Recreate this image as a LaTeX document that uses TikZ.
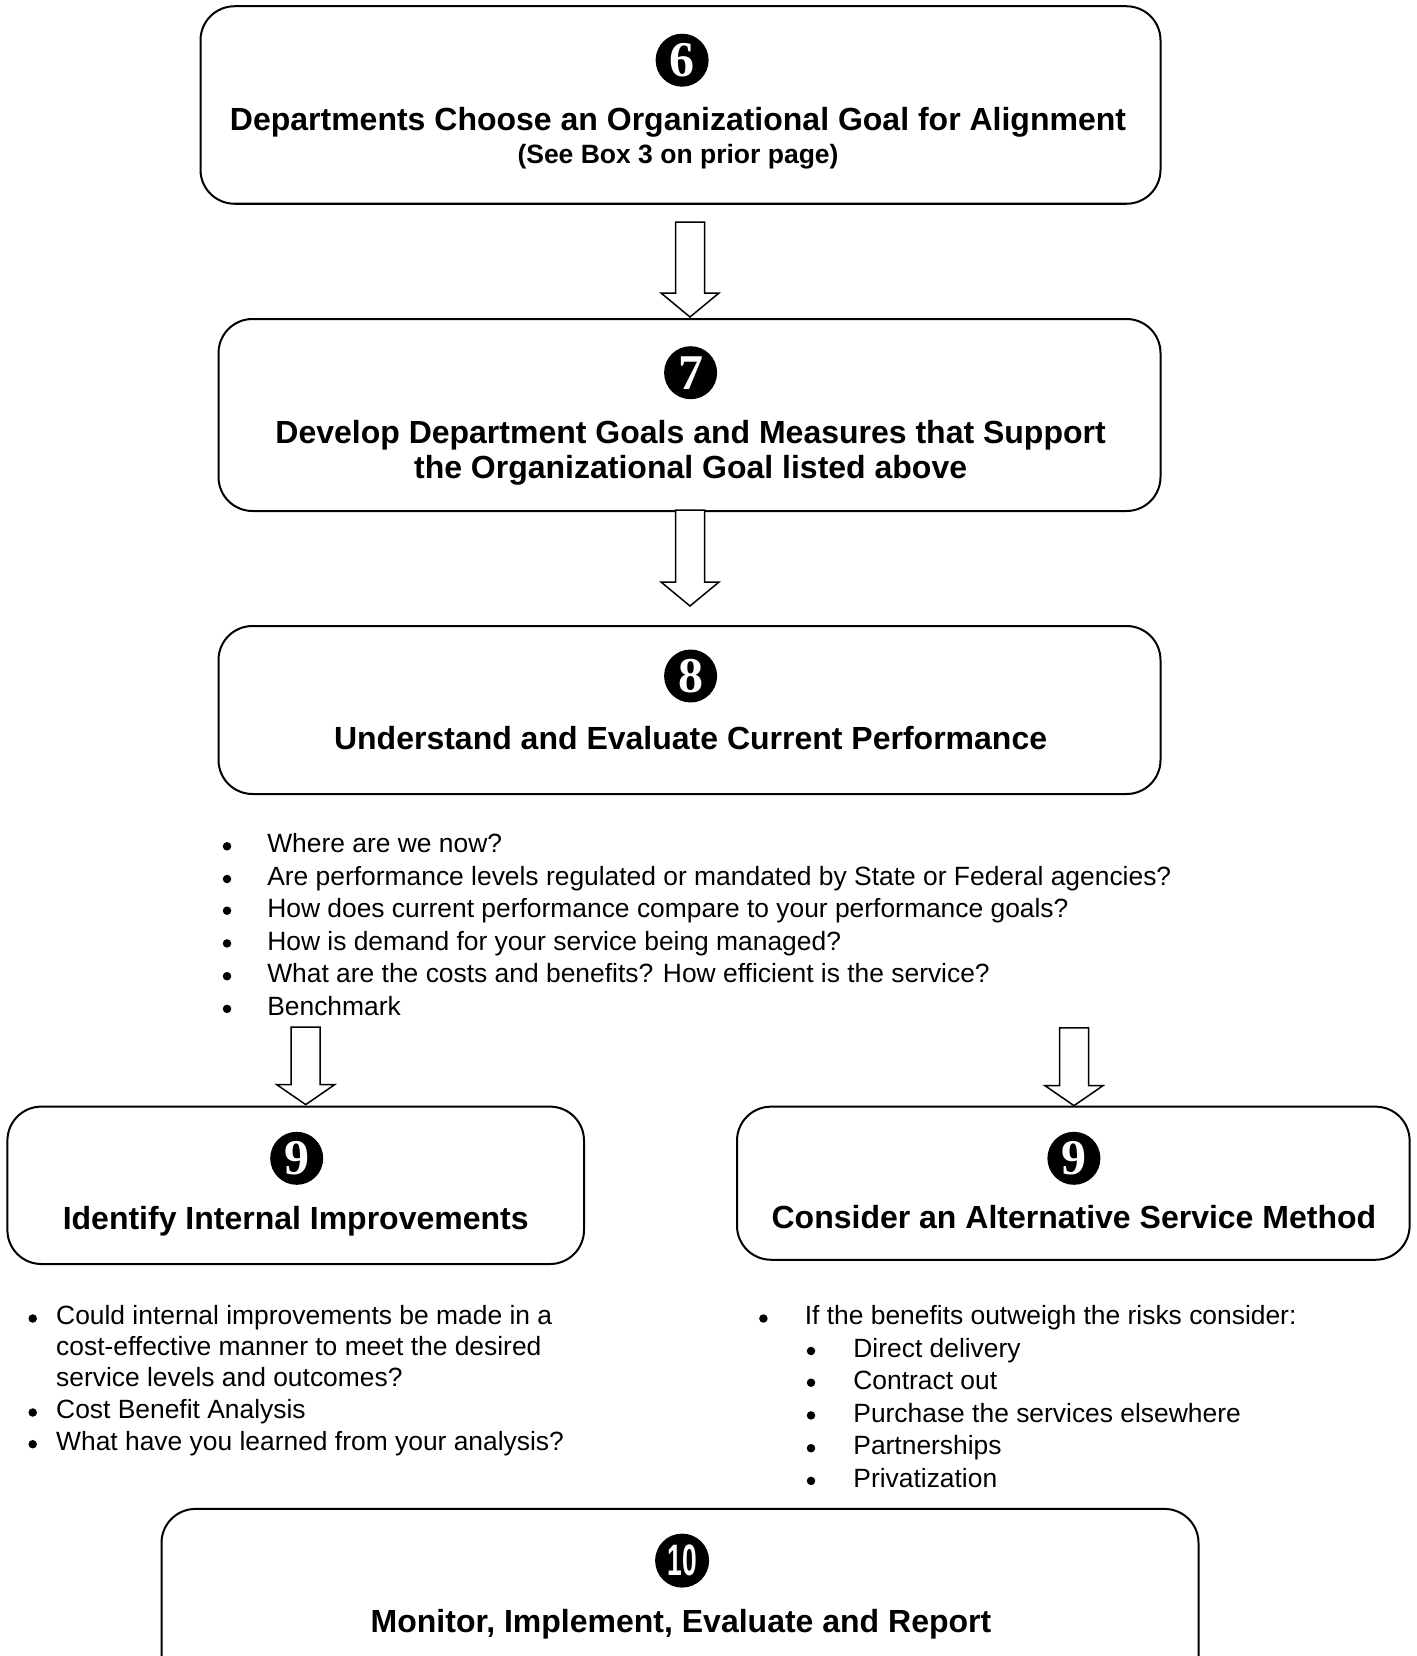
\documentclass[tikz,border=0pt]{standalone}
\usepackage{fontspec}
\setmainfont{Liberation Sans}
\newfontfamily\numfont{Liberation Serif}
\usetikzlibrary{calc}
\begin{document}
\begin{tikzpicture}[x=1pt,y=-1pt,
  box/.style={draw, line width=2pt, rounded corners=34pt, inner sep=0pt},
  num/.style={circle, fill=black, text=white, inner sep=0pt, minimum size=53pt,
    font=\numfont\bfseries\fontsize{50}{50}\selectfont},
  ttl/.style={font=\bfseries\fontsize{32}{36}\selectfont, anchor=mid, inner sep=0pt},
  subt/.style={font=\bfseries\fontsize{26.5}{30}\selectfont, anchor=mid, inner sep=0pt},
  body/.style={font=\fontsize{26.4}{30}\selectfont, anchor=mid west, inner sep=0pt},
  bul/.style={circle, fill=black, inner sep=0pt, minimum size=8.5pt},
  barrow/.style={draw, line width=1.5pt, fill=white, line join=miter}]
\clip (0,0) rectangle (1416,1656);
\fill[white] (0,0) rectangle (1416,1656);

% boxes
\node[box, minimum width=960, minimum height=197.5] (b6) at (680.5,105) {};
\node[box, minimum width=942, minimum height=192] (b7) at (689.5,415) {};
\node[box, minimum width=942, minimum height=168] (b8) at (689.5,710) {};
\node[box, minimum width=576.6, minimum height=157.4] (b9l) at (295.7,1185.3) {};
\node[box, minimum width=672.6, minimum height=153.1] (b9r) at (1073.3,1183.2) {};
\node[box, minimum width=1037, minimum height=211] (b10) at (680,1614.4) {};

% block arrows
\draw[barrow] ($(b7.north)+(0.5,-1)$) -- ++(-29,-24) -- ++(14.5,0) -- ++(0,-71) -- ++(29,0) -- ++(0,71) -- ++(14.5,0) -- cycle;
\draw[barrow] ($(b8.north)+(0.5,-19)$) -- ++(-29,-24) -- ++(14.5,0) -- ++(0,-72) -- ++(29,0) -- ++(0,72) -- ++(14.5,0) -- cycle;
\draw[barrow] ($(b9l.north)+(10,-1)$) -- ++(-29,-20) -- ++(14.5,0) -- ++(0,-57.5) -- ++(29,0) -- ++(0,57.5) -- ++(14.5,0) -- cycle;
\draw[barrow] ($(b9r.north)+(0.7,0)$) -- ++(-29,-20) -- ++(14.5,0) -- ++(0,-57.7) -- ++(29,0) -- ++(0,57.7) -- ++(14.5,0) -- cycle;

% numbers
\node[num] (n6) at (682.1,60.2) {6};
\node[num] (n7) at (690.6,372.7) {7};
\node[num] (n8) at (690.6,676) {8};
\node[num] (n9l) at (296.7,1158.3) {9};
\node[num] (n9r) at (1073.9,1158.3) {9};
\node[num, minimum size=54pt, font=\bfseries\fontsize{44}{44}\selectfont] (n10) at (682.1,1560.6) {\scalebox{0.6}[1]{10}};

% titles
\node[ttl] (t6) at (678,127.5) {Departments Choose an Organizational Goal for Alignment};
\node[subt] (s6) at (678,160.5) {(See Box 3 on prior page)};
\node[ttl] (t7a) at (690.6,440.5) {Develop Department Goals and Measures that Support};
\node[ttl] (t7b) at (690.6,476.3) {the Organizational Goal listed above};
\node[ttl] (t8) at (690.6,746.8) {Understand and Evaluate Current Performance};
\node[ttl] (t9l) at (295.7,1227) {Identify Internal Improvements};
\node[ttl] (t9r) at (1073.9,1226) {Consider an Alternative Service Method};
\node[ttl] (t10) at (681,1629.5) {Monitor, Implement, Evaluate and Report};

% bullets under box 8
\foreach \y/\t [count=\i] in {850.3/Where are we now?,
  883.0/Are performance levels regulated or mandated by State or Federal agencies?,
  914.7/How does current performance compare to your performance goals?,
  947.4/How is demand for your service being managed?,
  980.2/What are the costs and benefits? How efficient is the service?,
  1012.9/Benchmark}{
  \node[bul] (pb\i) at (227,\y-4) {};
  \node[body] (pt\i) at (267.1,\y) {\t};
}

% bullets under box 9 left
\node[bul] (lb1) at (32.7,1318.5) {};
\node[body] (lt1) at (56,1322.3) {Could internal improvements be made in a};
\node[body] (lt1b) at (56,1352.9) {cost-effective manner to meet the desired};
\node[body] (lt1c) at (56,1383.5) {service levels and outcomes?};
\node[bul] (lb2) at (32.7,1412.5) {};
\node[body] (lt2) at (56,1416.3) {Cost Benefit Analysis};
\node[bul] (lb3) at (32.7,1444.2) {};
\node[body] (lt3) at (56,1448) {What have you learned from your analysis?};

% bullets under box 9 right
\node[bul] (rb0) at (763.4,1318.5) {};
\node[body] (rt0) at (804.6,1322.3) {If the benefits outweigh the risks consider:};
\foreach \y/\t [count=\i] in {1355/Direct delivery,
  1386.7/Contract out,
  1419.4/Purchase the services elsewhere,
  1452.2/Partnerships,
  1484.9/Privatization}{
  \node[bul] (rb\i) at (811,\y-4) {};
  \node[body] (rt\i) at (853.2,\y) {\t};
}
\end{tikzpicture}
\end{document}
